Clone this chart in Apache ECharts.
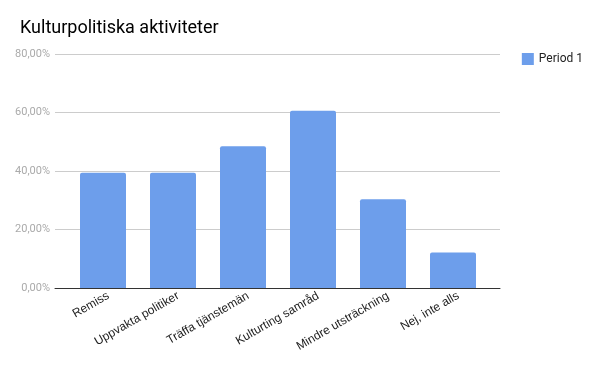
<!DOCTYPE html>
<html><head><meta charset="utf-8">
<script src="https://cdn.jsdelivr.net/npm/echarts@6/dist/echarts.min.js"></script>
<style>html,body{margin:0;padding:0;background:#fff}#c{width:600px;height:371px}</style>
</head><body><div id="c"></div>
<script>
const categories = ["Remiss","Uppvakta politiker","Träffa tjänstemän","Kulturting samråd","Mindre utsträckning","Nej, inte alls"];
const period1 = [39.4, 39.4, 48.5, 60.6, 30.3, 12.1];
const yTicks = [0, 20, 40, 60, 80];
const seriesName = "Period 1";
const titleText = "Kulturpolitiska aktiviteter";

const chart = echarts.init(document.getElementById('c'), null, {renderer:'canvas'});
const fmt = v => v.toFixed(2).replace('.', ',') + '%';
chart.setOption({
  animation: false,
  title: {text: titleText, left: 15, top: 14, textStyle: {fontFamily: 'Roboto', fontSize: 18, fontWeight: 'normal', color: '#000'}},
  legend: {right: 12, top: 48, itemWidth: 12, itemHeight: 12, itemGap: 8, icon: 'rect',
    textStyle: {fontFamily: 'Roboto', fontSize: 12, color: '#222'}, data: [seriesName]},
  grid: [
    {left: 55, right: 100, top: 54, bottom: 83},
    {left: 68, right: 112, top: 54, bottom: 83}
  ],
  xAxis: [
    {gridIndex: 0, type: 'value', min: 0, max: 1, axisLine: {show: true, onZero: false, lineStyle: {color: '#333', width: 1}},
      axisTick: {show: false}, axisLabel: {show: false}, splitLine: {show: false}},
    {gridIndex: 1, type: 'category', data: categories, axisLine: {show: false}, axisTick: {show: false},
      axisLabel: {rotate: 30, interval: 0, margin: 10, fontFamily: 'Liberation Sans', fontSize: 12, color: '#222',
        padding: [0, -6, 0, 0]}}
  ],
  yAxis: [
    {gridIndex: 0, type: 'value', min: yTicks[0], max: yTicks[yTicks.length-1], interval: 20,
      axisLine: {show: false}, axisTick: {show: false},
      axisLabel: {formatter: fmt, fontFamily: 'Roboto', fontSize: 11, color: '#aaa', margin: 5},
      splitLine: {lineStyle: {color: '#ccc', width: 1}}},
    {gridIndex: 1, type: 'value', min: 0, max: 80, show: false, splitLine: {show: false}}
  ],
  series: [{
    name: seriesName, type: 'bar', xAxisIndex: 1, yAxisIndex: 1, data: period1,
    barWidth: 46, itemStyle: {color: '#6d9eeb', borderRadius: [2,2,0,0]}
  }]
});
</script></body></html>
